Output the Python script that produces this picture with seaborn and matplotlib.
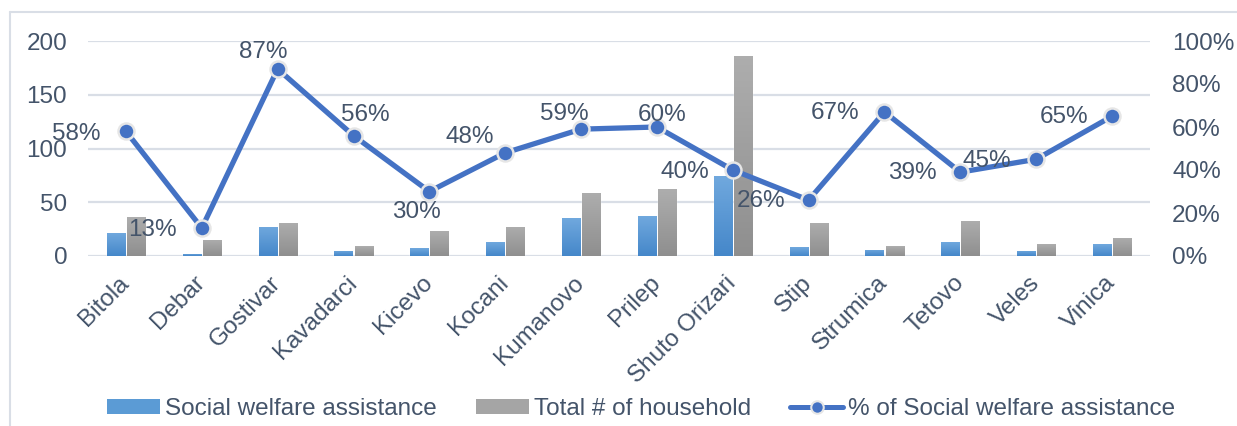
import numpy as np
import pandas as pd
import matplotlib
matplotlib.use("Agg")
import matplotlib.pyplot as plt
import seaborn as sns
from matplotlib.lines import Line2D
from matplotlib.patches import Patch
from matplotlib.ticker import PercentFormatter

cities = ["Bitola", "Debar", "Gostivar", "Kavadarci", "Kicevo", "Kocani", "Kumanovo",
          "Prilep", "Shuto Orizari", "Stip", "Strumica", "Tetovo", "Veles", "Vinica"]
welfare = [21, 2, 27, 5, 7, 13, 35, 37, 74, 8, 6, 13, 5, 11]
households = [36, 15, 31, 9, 23, 27, 59, 62, 186, 31, 9, 33, 11, 17]
pct = [0.58, 0.13, 0.87, 0.56, 0.30, 0.48, 0.59, 0.60, 0.40, 0.26, 0.67, 0.39, 0.45, 0.65]
pct_labels = ["58%", "13%", "87%", "56%", "30%", "48%", "59%", "60%", "40%", "26%",
              "67%", "39%", "45%", "65%"]
series_names = ["Social welfare assistance", "Total # of household", "% of Social welfare assistance"]

# label offsets in pixels (layout only)
LABEL_OFFSETS = [(-50, -3), (-49, -2), (-14, 17), (12, 21), (-13, -21), (-35, 16), (-17, 15),
                 (5, 12), (-48, -2), (-48, -1), (-49, -1), (-48, -1), (-49, -2), (-48, -1)]

TEXT = "#44546A"
GRID = "#D9DEE6"
BLUE = "#4472C4"
FS = 17.5

sns.set_theme(style="white")
plt.rcParams["font.family"] = ["Liberation Sans", "DejaVu Sans"]

df = pd.DataFrame({
    "city": cities * 2,
    "value": welfare + households,
    "series": [series_names[0]] * len(cities) + [series_names[1]] * len(cities),
})

fig = plt.figure(figsize=(12.37, 4.26), dpi=100)
ax = fig.add_axes([88 / 1237, 1 - 256 / 426, (1150 - 88) / 1237, (256 - 41) / 426])

sns.barplot(data=df, x="city", y="value", hue="series", order=cities,
            palette=["#5B9BD5", "#A5A5A5"], width=0.53, gap=0.1, ax=ax,
            legend=False, saturation=1)

# gradient fill for bars
grads = {
    0: [(0.44, 0.66, 0.87), (0.27, 0.53, 0.79)],
    1: [(0.68, 0.68, 0.68), (0.56, 0.56, 0.56)],
}
n = len(cities)
for i, p in enumerate(list(ax.patches)):
    idx = 0 if i < n else 1
    x0, y0 = p.get_x(), p.get_y()
    w, h = p.get_width(), p.get_height()
    if h <= 0:
        continue
    top, bot = np.array(grads[idx][0]), np.array(grads[idx][1])
    t = np.linspace(0, 1, 64)[:, None]
    img = (top * (1 - t) + bot * t)[:, None, :]
    im = ax.imshow(img, extent=[x0, x0 + w, y0, y0 + h], aspect="auto", origin="upper",
                   zorder=p.get_zorder() + 0.1)
    im.set_clip_path(p)

ax.set_xlim(-0.5, n - 0.5)
ax.set_ylim(0, 200)
ax.set_yticks([0, 50, 100, 150, 200])
ax.yaxis.grid(True, color=GRID, linewidth=1.6)
ax.set_axisbelow(True)
for s in ax.spines.values():
    s.set_visible(False)
ax.set_xlabel("")
ax.set_ylabel("")
ax.tick_params(axis="y", length=0, pad=15, labelsize=FS, labelcolor=TEXT)
ax.tick_params(axis="x", length=0, pad=17, labelsize=FS, labelcolor=TEXT)
ax.set_xticks(range(n))
ax.set_xticklabels(cities, rotation=45, ha="right", va="center", rotation_mode="anchor")
for lbl in ax.get_xticklabels():
    lbl.set_x(lbl.get_position()[0])

ax2 = ax.twinx()
sns.lineplot(x=np.arange(n), y=pct, ax=ax2, color=BLUE, linewidth=3.8, marker="o",
             markersize=11.5, markerfacecolor=BLUE, markeredgecolor="#E6E6E6",
             markeredgewidth=1.8, zorder=5)
ax2.set_ylim(0, 1)
ax2.set_yticks(np.arange(0, 1.01, 0.2))
ax2.yaxis.set_major_formatter(PercentFormatter(1.0, decimals=0))
ax2.tick_params(axis="y", length=0, pad=16, labelsize=FS, labelcolor=TEXT)
for s in ax2.spines.values():
    s.set_visible(False)
ax2.set_xlim(-0.5, n - 0.5)

for i, (v, lab) in enumerate(zip(pct, pct_labels)):
    dx, dy = LABEL_OFFSETS[i]
    ax2.annotate(lab, (i, v), xytext=(dx, dy), textcoords="offset pixels",
                 ha="center", va="center", fontsize=FS, color=TEXT, zorder=6)

handles = [
    Patch(facecolor="#5B9BD5", edgecolor="none"),
    Patch(facecolor="#A5A5A5", edgecolor="none"),
    Line2D([0], [0], color=BLUE, linewidth=3.6, marker="o", markersize=9,
           markerfacecolor=BLUE, markeredgecolor="#E6E6E6", markeredgewidth=1.5),
]
fig.legend(handles, series_names, loc="center", bbox_to_anchor=(641 / 1237, 1 - 409 / 426),
           ncol=3, frameon=False, fontsize=FS, labelcolor=TEXT, handlelength=2.2,
           handletextpad=0.2, columnspacing=1.6, handleheight=0.55)

# chart border
fig.add_artist(Line2D([10 / 1237, 10 / 1237], [0, 1 - 12 / 426], color=GRID, linewidth=1.5,
                      transform=fig.transFigure))
fig.add_artist(Line2D([10 / 1237, 1], [1 - 12 / 426, 1 - 12 / 426], color=GRID, linewidth=1.5,
                      transform=fig.transFigure))

fig.savefig("out.png", dpi=100)
